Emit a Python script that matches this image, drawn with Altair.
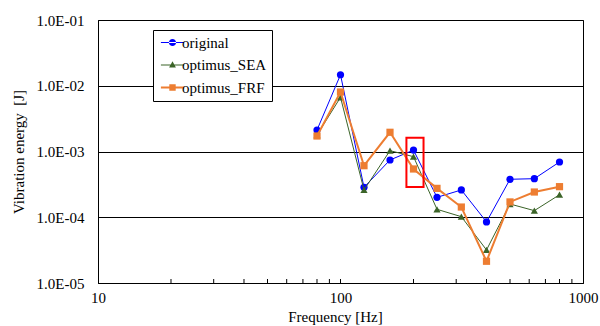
import altair as alt
import pandas as pd

# Frequency bands [Hz]
freq = [80, 100, 125, 160, 200, 250, 315, 400, 500, 630, 800]

# Vibration energy [J] per band
original = [2.12e-3, 1.47e-2, 2.85e-4, 7.43e-4, 1.05e-3, 2.01e-4, 2.60e-4, 8.5e-5, 3.78e-4, 3.86e-4, 6.92e-4]
optimus_sea = [1.78e-3, 6.67e-3, 2.60e-4, 1.03e-3, 8.34e-4, 1.32e-4, 1.02e-4, 3.18e-5, 1.59e-4, 1.26e-4, 2.20e-4]
optimus_frf = [1.72e-3, 8.03e-3, 6.08e-4, 1.96e-3, 5.42e-4, 2.75e-4, 1.43e-4, 2.14e-5, 1.71e-4, 2.42e-4, 2.92e-4]

series_names = ["original", "optimus_SEA", "optimus_FRF"]
series_values = [original, optimus_sea, optimus_frf]
series_colors = ["#0000FF", "#3B6428", "#ED7D31"]
series_shapes = ["circle", "triangle-up", "square"]
series_widths = [1, 1, 2]

# Highlight box around the 200 Hz band
box_f = [187, 220]
box_e = [1.62e-3, 2.88e-4]

# Inward tick positions along the frequency axis
tick_f = [20, 30, 40, 50, 60, 70, 80, 90, 100, 200, 300, 400, 500, 600, 700, 800, 900]

x_ticks = [10, 100, 1000]
y_ticks = [1e-5, 1e-4, 1e-3, 1e-2, 1e-1]

FONT = "'Liberation Serif', 'Times New Roman', serif"
W, H = 485, 263

rows = []
for name, vals in zip(series_names, series_values):
    for f, v in zip(freq, vals):
        rows.append({"freq": f, "energy": v, "series": name})
df = pd.DataFrame(rows)

x_scale = alt.Scale(type="log", domain=[10, 1000], nice=False)
y_scale = alt.Scale(type="log", domain=[1e-5, 1e-1], nice=False)

x_enc = alt.X(
    "freq:Q", scale=x_scale,
    axis=alt.Axis(
        title="Frequency [Hz]", values=x_ticks, labelExpr="datum.value",
        ticks=False, grid=False, domainColor="black", labelPadding=7,
        titlePadding=4, titleX=237, labelFontSize=15, titleFontSize=15,
        labelFont=FONT, titleFont=FONT, labelColor="black", titleColor="black",
        titleFontWeight="normal", labelFlush=False,
    ),
)
y_enc = alt.Y(
    "energy:Q", scale=y_scale,
    axis=alt.Axis(
        title="Vibration energy\u00a0 [J]", values=y_ticks,
        labelExpr="'1.0E-' + (abs(round(log(datum.value)/LN10)) < 10 ? '0' : '') + abs(round(log(datum.value)/LN10))",
        ticks=False, grid=True, gridColor="black", gridOpacity=1, gridWidth=1,
        domainColor="black", labelPadding=14, titlePadding=10,
        labelFontSize=15, titleFontSize=15, labelFont=FONT, titleFont=FONT,
        labelColor="black", titleColor="black", titleFontWeight="normal",
        labelFlush=False,
    ),
)

color_scale = alt.Scale(domain=series_names, range=series_colors)

layers = []
for name, col, shp, lw in zip(series_names, series_colors, series_shapes, series_widths):
    sub = df[df["series"] == name]
    base = alt.Chart(sub)
    layers.append(base.mark_line(color=col, strokeWidth=lw).encode(x=x_enc, y=y_enc))
    layers.append(base.mark_point(color=col, shape=shp, filled=True, opacity=1, size=52).encode(
        x=x_enc, y=y_enc))

# Legend entries: a short line with the marker on it
bar1 = "M-2.9,-0.125H2.9V0.125H-2.9Z"
bar2 = "M-2.9,-0.25H2.9V0.25H-2.9Z"
legend_paths = [
    bar1 + "M-0.9,0A0.9,0.9 0 1,0 0.9,0A0.9,0.9 0 1,0 -0.9,0Z",
    bar1 + "M0,-0.95L0.85,0.6L-0.85,0.6Z",
    bar2 + "M-0.8,-0.8H0.8V0.8H-0.8Z",
]
legend_df = pd.DataFrame({"freq": [50] * 3, "energy": [1e-9] * 3, "series": series_names})
legend_layer = alt.Chart(legend_df).mark_point(filled=True, opacity=1, clip=True, size=1).encode(
    x=alt.X("freq:Q", scale=x_scale),
    y=alt.Y("energy:Q", scale=y_scale),
    color=alt.Color("series:N", scale=color_scale, legend=alt.Legend(
        title=None, orient="none", legendX=55, legendY=10,
        symbolSize=64, symbolStrokeWidth=0, symbolOffset=7, labelOffset=2,
        labelFont=FONT, labelFontSize=15, labelColor="black",
        rowPadding=6.5, padding=5, strokeColor="black", fillColor="white",
        labelLimit=200,
    )),
    shape=alt.Shape("series:N", scale=alt.Scale(domain=series_names, range=legend_paths)),
)

ticks_df = pd.DataFrame({"freq": tick_f})
tick_layer = alt.Chart(ticks_df).mark_rule(color="black", strokeWidth=1).encode(
    x=alt.X("freq:Q", scale=x_scale), y=alt.value(H), y2=alt.value(H - 4))

box_df = pd.DataFrame({"f1": [box_f[0]], "f2": [box_f[1]], "e1": [box_e[0]], "e2": [box_e[1]]})
box_layer = alt.Chart(box_df).mark_rect(fillOpacity=0, stroke="#FF0000", strokeWidth=2).encode(
    x=alt.X("f1:Q", scale=x_scale), x2="f2:Q",
    y=alt.Y("e1:Q", scale=y_scale), y2="e2:Q")

chart = alt.layer(tick_layer, *layers, box_layer, legend_layer).properties(
    width=W, height=H,
    autosize=alt.AutoSizeParams(type="none"),
    padding={"left": 98, "top": 20, "right": 17, "bottom": 43},
    background="white",
).configure(font=FONT).configure_view(stroke="black", strokeWidth=1)

chart.save("out.html", embed_options={"renderer": "svg", "actions": False})
